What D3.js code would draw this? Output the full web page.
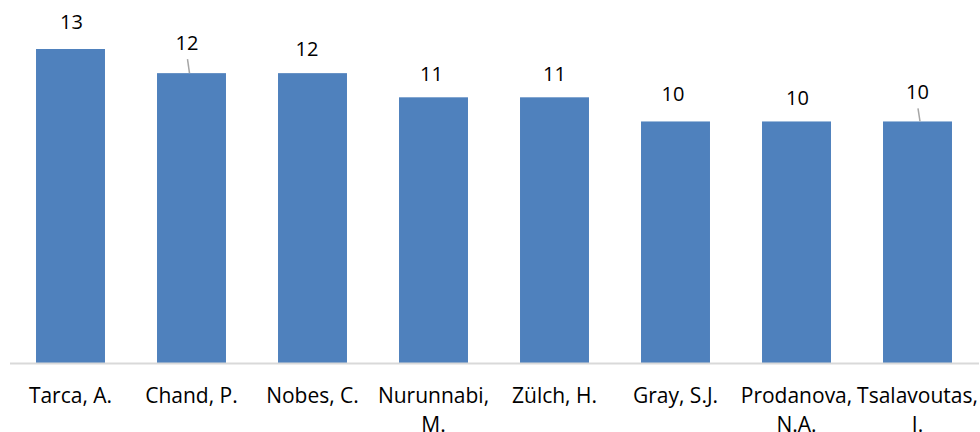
<!DOCTYPE html>
<html>
<head>
<meta charset="utf-8">
<script src="https://cdn.jsdelivr.net/npm/d3@7"></script>
<style>
  html, body { margin: 0; padding: 0; background: #fff; }
  svg { display: block; }
  text { font-family: "Open Sans", sans-serif; fill: #000; }
</style>
</head>
<body>
<svg id="chart" width="980" height="432"></svg>
<script>
// ---- data ----
const categories = ["Tarca, A.", "Chand, P.", "Nobes, C.", "Nurunnabi, M.", "Zülch, H.", "Gray, S.J.", "Prodanova, N.A.", "Tsalavoutas, I."];
const values = [13, 12, 12, 11, 11, 10, 10, 10];

// ---- layout (manual label placement as in the original, in pixels) ----
const labelDx = [1, -4.5, -5.5, -2, 0, -2.5, 1, 0];
const labelGap = [20, 23, 17, 16, 16, 20, 16, 22];
const hasLeader = [false, true, false, false, false, false, false, true];

const W = 980, H = 432;
const svg = d3.select("#chart");

const x = d3.scaleBand()
  .domain(categories)
  .range([10, 978])
  .paddingInner(0.43)
  .paddingOuter(0.215);

const y = d3.scaleLinear()
  .domain([0, 13])
  .range([363, 49]);

// bars
svg.append("g").selectAll("rect")
  .data(values)
  .join("rect")
  .attr("x", (d, i) => x(categories[i]))
  .attr("y", d => y(d))
  .attr("width", x.bandwidth())
  .attr("height", d => y(0) - y(d))
  .attr("fill", "#4f81bd");

// axis baseline
const xAxis = d3.axisBottom(x).tickSize(0).tickFormat("");
const gAxis = svg.append("g").attr("transform", `translate(0,${y(0)})`).call(xAxis);
gAxis.select(".domain").attr("stroke", "#d9d9d9").attr("stroke-width", 2)
  .attr("d", `M10,0.5H979`);

// category labels with wrapping
const catG = svg.append("g");
categories.forEach((c, i) => {
  const cx = x(c) + x.bandwidth() / 2;
  const t = catG.append("text")
    .attr("x", cx)
    .attr("y", 403)
    .attr("text-anchor", "middle")
    .style("font-size", "21px");
  t.text(c);
  const maxW = x.step() - 4;
  if (t.node().getComputedTextLength() > maxW) {
    t.text(null);
    const words = c.split(" ");
    let lines = [], cur = [];
    words.forEach(w => {
      cur.push(w);
      t.text(cur.join(" "));
      if (t.node().getComputedTextLength() > maxW && cur.length > 1) {
        cur.pop();
        lines.push(cur.join(" "));
        cur = [w];
      }
    });
    lines.push(cur.join(" "));
    t.text(null);
    lines.forEach((ln, k) => {
      t.append("tspan").attr("x", cx).attr("dy", k === 0 ? 0 : 29).text(ln);
    });
  }
});

// value labels
const valG = svg.append("g");
values.forEach((v, i) => {
  const cx = x(categories[i]) + x.bandwidth() / 2;
  const top = y(v);
  const base = top - labelGap[i];
  valG.append("text")
    .attr("x", cx + labelDx[i])
    .attr("y", base)
    .attr("text-anchor", "middle")
    .style("font-size", "20px")
    .text(v);
  if (hasLeader[i]) {
    valG.append("line")
      .attr("x1", cx + labelDx[i] + 0.5)
      .attr("y1", base + 9)
      .attr("x2", cx + labelDx[i] + 2.5)
      .attr("y2", top)
      .attr("stroke", "#a6a6a6")
      .attr("stroke-width", 1.5);
  }
});
</script>
</body>
</html>
